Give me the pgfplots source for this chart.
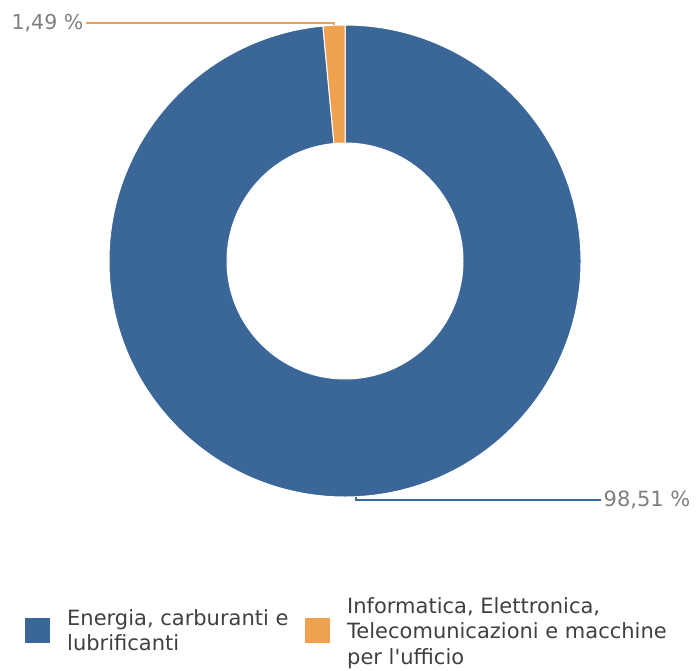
\documentclass[border=0pt]{standalone}
\usepackage{pgfplots}
\pgfplotsset{compat=1.18}
\usepackage{pgfplotstable}
\usepackage{fontspec}
\setmainfont{DejaVu Sans}
\definecolor{cblue}{HTML}{3A6698}
\definecolor{corange}{HTML}{F0A150}
\definecolor{lblgray}{HTML}{7F7F7F}
\definecolor{legtext}{HTML}{404040}

\pgfplotstableread{
value
98.51
1.49
}\donut

\begin{document}%
\begin{tikzpicture}
\pgfplotstablegetelem{0}{value}\of\donut \let\va\pgfplotsretval
\pgfplotstablegetelem{1}{value}\of\donut \let\vb\pgfplotsretval
\pgfmathsetmacro\aone{90+3.6*\vb}
\pgfmathsetmacro\amidO{90+1.8*\vb}
\pgfmathsetmacro\amidB{\aone+1.8*\va}
\pgfmathsetmacro\aoneopp{\aone+180}
\begin{axis}[x=1pt,y=1pt,xmin=0,xmax=696,ymin=0,ymax=670,hide axis,scale only axis,clip=false]
\path (axis cs:0,0) rectangle (axis cs:696,670);
% blue slice
\fill[cblue, draw=white, line width=1pt] (axis cs:345,409) ++(\aone:236pt)
  arc[start angle=\aone, end angle=450, radius=236pt] -- ++(270:118pt)
  arc[start angle=450, end angle=\aone, radius=118pt] -- cycle;
% orange slice
\fill[corange, draw=white, line width=1pt] (axis cs:345,409) ++(90:236pt)
  arc[start angle=90, end angle=\aone, radius=236pt] -- ++(\aoneopp:118pt)
  arc[start angle=\aone, end angle=90, radius=118pt] -- cycle;
% leader lines
\draw[corange, line width=1.3pt] (axis cs:345,409) ++(\amidO:236pt) |- (axis cs:86,647);
\draw[cblue, line width=1.3pt] (axis cs:345,409) ++(\amidB:236pt) |- (axis cs:601,170);
\node[anchor=east, text=lblgray, inner sep=1.5pt, font=\fontsize{20.5}{24}\selectfont] at (axis cs:85,647) {1,49 \%};
\node[anchor=west, text=lblgray, inner sep=1.5pt, font=\fontsize{21}{24}\selectfont] at (axis cs:602,170) {98,51 \%};
% legend
\fill[cblue] (axis cs:25,27) rectangle (axis cs:50,52);
\node[anchor=west, align=left, text=legtext, inner sep=0pt, font=\fontsize{21}{25.5}\selectfont] at (axis cs:67,40) {Energia, carburanti e\\lubrificanti};
\fill[corange] (axis cs:305,27) rectangle (axis cs:330,52);
\node[anchor=west, align=left, text=legtext, inner sep=0pt, font=\fontsize{21}{25.5}\selectfont] at (axis cs:347,37) {Informatica, Elettronica,\\Telecomunicazioni e macchine\\per l\textquotesingle ufficio};
\end{axis}
\end{tikzpicture}%
\end{document}
